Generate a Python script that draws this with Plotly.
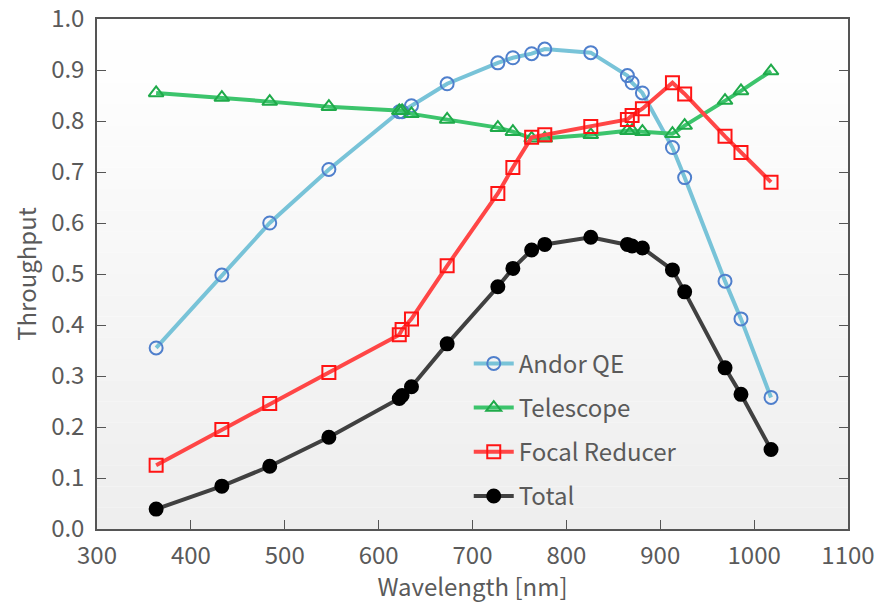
import plotly.graph_objects as go

# Wavelengths of the measured points [nm]
wavelength = [363, 433, 484, 547, 622, 625, 635, 673, 727, 743, 763, 777,
              826, 865, 870, 881, 913, 926, 969, 986, 1018]

andor_qe = [0.355, 0.498, 0.600, 0.705, 0.818, 0.818, 0.830, 0.873, 0.914, 0.924,
            0.932, 0.941, 0.934, 0.889, 0.875, 0.855, 0.748, 0.689, 0.486, 0.412, 0.258]

telescope = [0.855, 0.846, 0.838, 0.828, 0.820, 0.820, 0.814, 0.803, 0.787, 0.779,
             0.766, 0.766, 0.773, 0.781, 0.781, 0.779, 0.775, 0.791, 0.840, 0.859, 0.898]

focal_reducer = [0.125, 0.195, 0.246, 0.307, 0.381, 0.391, 0.412, 0.516, 0.658, 0.709,
                 0.768, 0.773, 0.789, 0.803, 0.811, 0.824, 0.875, 0.853, 0.770, 0.738, 0.680]

total = [0.039, 0.084, 0.123, 0.180, 0.256, 0.262, 0.279, 0.363, 0.475, 0.511,
         0.547, 0.558, 0.572, 0.558, 0.555, 0.551, 0.508, 0.465, 0.316, 0.264, 0.156]

x_ticks = [300, 400, 500, 600, 700, 800, 900, 1000, 1100]
y_ticks = [0.0, 0.1, 0.2, 0.3, 0.4, 0.5, 0.6, 0.7, 0.8, 0.9, 1.0]

FONT = "Noto Sans CJK KR, Open Sans, sans-serif"
TEXT = "#5a5a5a"
AXIS = "#555555"
FS = 24

series = [
    ("Andor QE", andor_qe, "#78c3d8", "circle-open", "#4f7fcc"),
    ("Telescope", telescope, "#3cc46c", "triangle-up-open", "#1faa4a"),
    ("Focal Reducer", focal_reducer, "#ff4646", "square-open", "#ff1414"),
    ("Total", total, "#404040", "circle", "#000000"),
]

fig = go.Figure()
for name, values, line_color, symbol, marker_color in series:
    fig.add_trace(go.Scatter(
        x=wavelength, y=values, name=name, legendgroup=name,
        mode="lines+markers",
        line=dict(color=line_color, width=4),
        marker=dict(symbol=symbol, size=13,
                    color=marker_color, line=dict(width=2, color=marker_color)),
    ))

# soft vertical gradient behind the plot area (white at top, light gray at bottom)
n_bands = 24
for i in range(n_bands):
    t = i / (n_bands - 1)
    g = round(255 - t * (255 - 238))
    fig.add_shape(type="rect", xref="x domain", yref="y domain",
                  x0=0, x1=1, y0=1 - (i + 1) / n_bands, y1=1 - i / n_bands,
                  fillcolor=f"rgb({g},{g},{g})", line=dict(width=0), layer="below")

fig.update_layout(
    width=881, height=603,
    margin=dict(l=97, r=33, t=19, b=74),
    paper_bgcolor="white", plot_bgcolor="white",
    font=dict(family=FONT, color=TEXT, size=FS),
    showlegend=True,
    legend=dict(x=0.495, y=0.368, xanchor="left", yanchor="top",
                bgcolor="rgba(0,0,0,0)", font=dict(size=FS, color=TEXT),
                tracegroupgap=10, itemwidth=40),
    xaxis=dict(range=[300, 1100], tickvals=x_ticks, ticks="inside", ticklen=9,
               tickcolor=AXIS, showline=True, linecolor=AXIS, linewidth=1.5,
               mirror=True, showgrid=False, zeroline=False, ticklabelstandoff=4,
               ticklabeloverflow="allow", automargin=False,
               tickfont=dict(size=FS, color=TEXT),
               title=dict(text="Wavelength [nm]", font=dict(size=FS, color=TEXT), standoff=6)),
    yaxis=dict(range=[0, 1], tickvals=y_ticks, tickformat=".1f", ticks="inside", ticklen=9,
               tickcolor=AXIS, showline=True, linecolor=AXIS, linewidth=1.5,
               mirror="ticks", showgrid=False, zeroline=False, ticklabelstandoff=6,
               ticklabeloverflow="allow", automargin=False,
               tickfont=dict(size=FS, color=TEXT),
               title=dict(text="Throughput", font=dict(size=FS, color=TEXT), standoff=8)),
)

fig.write_html("out.html")
